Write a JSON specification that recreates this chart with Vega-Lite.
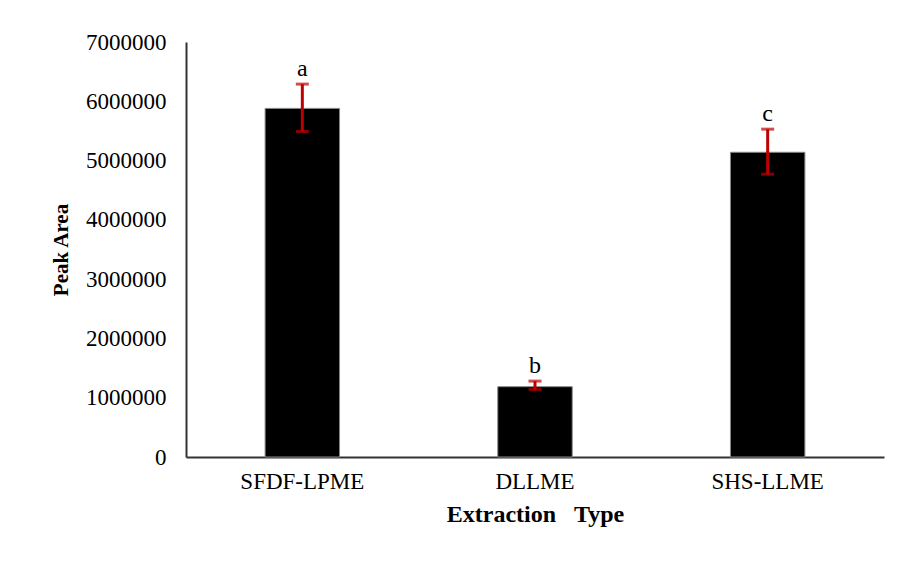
{
  "$schema": "https://vega.github.io/schema/vega-lite/v6.json",
  "width": 698,
  "height": 415,
  "autosize": {"type": "none"},
  "padding": {"left": 186, "top": 42, "right": 17, "bottom": 107},
  "background": "white",
  "config": {"view": {"stroke": null}, "font": "Liberation Serif"},
  "data": {
    "values": [
      {"type": "SFDF-LPME", "area": 5880000, "lo": 5490000, "hi": 6290000, "letter": "a"},
      {"type": "DLLME", "area": 1186000, "lo": 1140000, "hi": 1280000, "letter": "b"},
      {"type": "SHS-LLME", "area": 5140000, "lo": 4770000, "hi": 5530000, "letter": "c"}
    ]
  },
  "encoding": {
    "x": {
      "field": "type",
      "type": "nominal",
      "sort": null,
      "scale": {"paddingInner": 0.68, "paddingOuter": 0.34},
      "axis": {
        "title": "Extraction\u00a0\u00a0\u00a0Type",
        "labelAngle": 0,
        "labelFontSize": 23,
        "labelColor": "black",
        "labelPadding": 13,
        "ticks": false,
        "domainColor": "#333333",
        "domainWidth": 2,
        "titleFontSize": 24,
        "titleFontWeight": "bold",
        "titleColor": "black",
        "titlePadding": 9
      }
    }
  },
  "layer": [
    {
      "mark": {"type": "bar", "color": "black", "stroke": "#888888", "strokeWidth": 1},
      "encoding": {
        "y": {
          "field": "area",
          "type": "quantitative",
          "scale": {"domain": [0, 7000000], "nice": false},
          "axis": {
            "title": "Peak Area",
            "values": [0, 1000000, 2000000, 3000000, 4000000, 5000000, 6000000, 7000000],
            "format": "d",
            "grid": false,
            "ticks": false,
            "labelFontSize": 23,
            "labelColor": "black",
            "labelPadding": 20,
            "domainColor": "#333333",
            "domainWidth": 2,
            "titleFontSize": 21,
            "titleFontWeight": "bold",
            "titleColor": "black",
            "titlePadding": 14
          }
        }
      }
    },
    {
      "mark": {"type": "rule", "color": "#C00000", "strokeWidth": 3},
      "encoding": {"y": {"field": "lo", "type": "quantitative"}, "y2": {"field": "hi"}}
    },
    {
      "mark": {"type": "tick", "color": "#C00000", "thickness": 3, "size": 13},
      "encoding": {"y": {"field": "lo", "type": "quantitative"}}
    },
    {
      "mark": {"type": "tick", "color": "#C00000", "thickness": 3, "size": 13},
      "encoding": {"y": {"field": "hi", "type": "quantitative"}}
    },
    {
      "mark": {"type": "text", "dy": -8, "baseline": "alphabetic", "fontSize": 24, "color": "black"},
      "encoding": {"y": {"field": "hi", "type": "quantitative"}, "text": {"field": "letter"}}
    }
  ]
}
